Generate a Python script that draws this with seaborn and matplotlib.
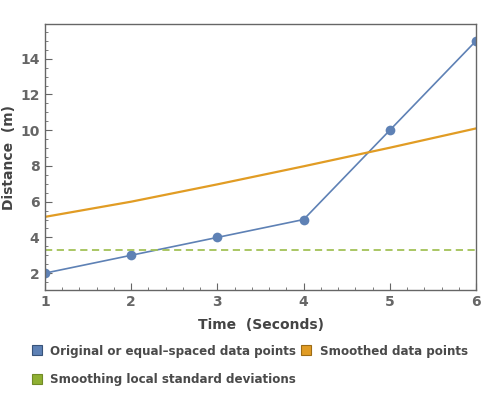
import numpy as np
import pandas as pd
import matplotlib
matplotlib.use('Agg')
import matplotlib.pyplot as plt
import seaborn as sns
from matplotlib.lines import Line2D
from matplotlib.ticker import MultipleLocator

# Datos
tiempo = [1, 2, 3, 4, 5, 6]
distancia = [2, 3, 4, 5, 10, 15]
suavizado = [5.15, 6.0, 6.97, 7.98, 9.02, 10.1]
desviacion = [3.31, 3.31, 3.31, 3.31, 3.31, 3.31]

etiquetas = ['Original or equal\u2013spaced data points',
             'Smoothed data points',
             'Smoothing local standard deviations']

azul = '#5E81B5'
naranja = '#E19C24'
verde = '#8FB032'

sns.set_style('ticks')
plt.rcParams['font.family'] = ['DejaVu Sans']

df = pd.DataFrame({'t': tiempo, 'orig': distancia, 'suav': suavizado, 'sd': desviacion})

fig = plt.figure(figsize=(5, 3.95), dpi=100)
ax = fig.add_axes([0.09, 0.266, 0.862, 0.673])

sns.lineplot(data=df, x='t', y='orig', ax=ax, color=azul, lw=1.2,
             marker='o', markersize=7, markeredgewidth=0)
sns.lineplot(data=df, x='t', y='suav', ax=ax, color=naranja, lw=1.6)
sns.lineplot(data=df, x='t', y='sd', ax=ax, color='#A3C257', lw=1.3, linestyle=(0, (4, 2.5)))

ax.set_xlim(1, 6)
ax.set_ylim(1.06, 15.94)
ax.xaxis.set_major_locator(MultipleLocator(1))
ax.xaxis.set_minor_locator(MultipleLocator(0.2))
ax.yaxis.set_major_locator(MultipleLocator(2))
ax.yaxis.set_minor_locator(MultipleLocator(0.5))
ax.set_yticks([2, 4, 6, 8, 10, 12, 14])

gris = '#666666'
for s in ax.spines.values():
    s.set_color(gris)
    s.set_linewidth(1.0)
ax.tick_params(which='both', direction='in', color=gris, top=False, right=False)
ax.tick_params(which='major', length=5, width=0.8, labelsize=10, labelcolor=gris, pad=4)
ax.tick_params(which='minor', length=2.5, width=0.6)
for lbl in ax.get_xticklabels() + ax.get_yticklabels():
    lbl.set_fontweight('bold')

ax.set_xlabel('Time  (Seconds)', fontsize=10, fontweight='bold', color='#444444', labelpad=6)
ax.set_ylabel('Distance  (m)', fontsize=10, fontweight='bold', color='#444444', labelpad=3)

# Leyenda inferior
def cuadro(c):
    return Line2D([], [], linestyle='none', marker='s', markersize=6.5,
                  markerfacecolor=c, markeredgecolor=sns.set_hls_values(c, l=0.35),
                  markeredgewidth=0.8)

manejadores = [cuadro(azul), cuadro(verde), cuadro(naranja)]
textos = [etiquetas[0], etiquetas[2], etiquetas[1]]
leg = fig.legend(manejadores, textos, ncol=2, loc='upper left',
                 bbox_to_anchor=(0.042, 0.155), frameon=False,
                 prop={'size': 8.6, 'weight': 'bold'}, handlelength=0.8,
                 handletextpad=0.7, columnspacing=0.5, labelspacing=1.3)
for t in leg.get_texts():
    t.set_color('#4a4a4a')

fig.savefig('out.png', dpi=100)
